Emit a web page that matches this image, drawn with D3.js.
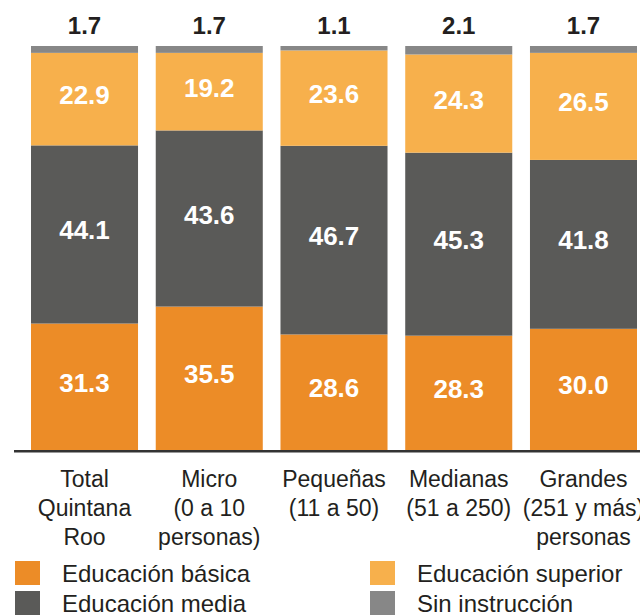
<!DOCTYPE html>
<html>
<head>
<meta charset="utf-8">
<title>Escolaridad por tamaño de empresa</title>
<script src="https://d3js.org/d3.v7.min.js"></script>
<style>
  body { margin: 0; background: #fff; }
  text { font-family: "Liberation Sans", Arial, Helvetica, sans-serif; }
  .val { fill: #fff; font-weight: bold; font-size: 26px; text-anchor: middle; }
  .top { fill: #231f20; font-weight: bold; font-size: 24px; text-anchor: middle; }
  .cat { fill: #231f20; font-size: 23px; text-anchor: middle; }
  .leg { fill: #231f20; font-size: 24px; }
</style>
</head>
<body>
<svg id="chart" width="640" height="615"></svg>
<script>
// data (percentages)
var categories = [
  ["Total", "Quintana", "Roo"],
  ["Micro", "(0 a 10", "personas)"],
  ["Pequeñas", "(11 a 50)"],
  ["Medianas", "(51 a 250)"],
  ["Grandes", "(251 y más)", "personas"]
];
var basica   = [31.3, 35.5, 28.6, 28.3, 30.0];
var media    = [44.1, 43.6, 46.7, 45.3, 41.8];
var superior = [22.9, 19.2, 23.6, 24.3, 26.5];
var sinInstr = [1.7, 1.7, 1.1, 2.1, 1.7];

var keys = ["basica", "media", "superior", "sin"];
var names = {basica: "Educación básica", media: "Educación media",
             superior: "Educación superior", sin: "Sin instrucción"};
var colors = {basica: "#ec8c27", media: "#5a5a58", superior: "#f7b04c", sin: "#878787"};

var rows = categories.map(function(c, i) {
  return {i: i, basica: basica[i], media: media[i], superior: superior[i], sin: sinInstr[i]};
});

var svg = d3.select("#chart");

var x = d3.scaleBand()
    .domain(d3.range(categories.length))
    .range([31, 637])
    .paddingInner(0.142)
    .paddingOuter(0);

var y = d3.scaleLinear()
    .domain([0, 100])
    .range([450, 46]);

var series = d3.stack().keys(keys)(rows);

var layer = svg.selectAll("g.layer")
  .data(series)
  .enter().append("g")
    .attr("class", "layer")
    .attr("fill", function(d) { return colors[d.key]; });

layer.selectAll("rect")
  .data(function(d) { return d; })
  .enter().append("rect")
    .attr("x", function(d, i) { return x(i); })
    .attr("y", function(d) { return y(d[1]); })
    .attr("width", x.bandwidth())
    .attr("height", function(d) { return y(d[0]) - y(d[1]); });

// labels inside the three big segments
series.slice(0, 3).forEach(function(s) {
  svg.append("g").selectAll("text")
    .data(s)
    .enter().append("text")
      .attr("class", "val")
      .attr("x", function(d, i) { return x(i) + x.bandwidth() / 2; })
      .attr("y", function(d) { return (y(d[0]) + y(d[1])) / 2 + 5; })
      .text(function(d) { return d.data[s.key].toFixed(1); });
});

// "sin instrucción" values above the bars
svg.append("g").selectAll("text")
  .data(sinInstr)
  .enter().append("text")
    .attr("class", "top")
    .attr("x", function(d, i) { return x(i) + x.bandwidth() / 2; })
    .attr("y", 34)
    .text(function(d) { return d.toFixed(1); });

// baseline
svg.append("line")
    .attr("x1", 14).attr("x2", 640)
    .attr("y1", y(0) + 1.2).attr("y2", y(0) + 1.2)
    .attr("stroke", "#333")
    .attr("stroke-width", 2.4);

// category labels
var cat = svg.append("g").selectAll("text")
  .data(categories)
  .enter().append("text")
    .attr("class", "cat")
    .attr("x", function(d, i) { return x(i) + x.bandwidth() / 2; })
    .attr("y", 487);

cat.selectAll("tspan")
  .data(function(d) { return d; })
  .enter().append("tspan")
    .attr("x", function() { return d3.select(this.parentNode).attr("x"); })
    .attr("dy", function(d, i) { return i ? 29 : 0; })
    .text(function(d) { return d; });

// legend
var legendPos = [
  {key: "basica", x: 15, y: 561},
  {key: "media", x: 15, y: 591},
  {key: "superior", x: 370, y: 561},
  {key: "sin", x: 370, y: 591}
];

var leg = svg.append("g").selectAll("g")
  .data(legendPos)
  .enter().append("g")
    .attr("transform", function(d) { return "translate(" + d.x + "," + d.y + ")"; });

leg.append("rect")
    .attr("width", 25)
    .attr("height", 24)
    .attr("fill", function(d) { return colors[d.key]; });

leg.append("text")
    .attr("class", "leg")
    .attr("x", 47)
    .attr("y", 21)
    .text(function(d) { return names[d.key]; });
</script>
</body>
</html>
